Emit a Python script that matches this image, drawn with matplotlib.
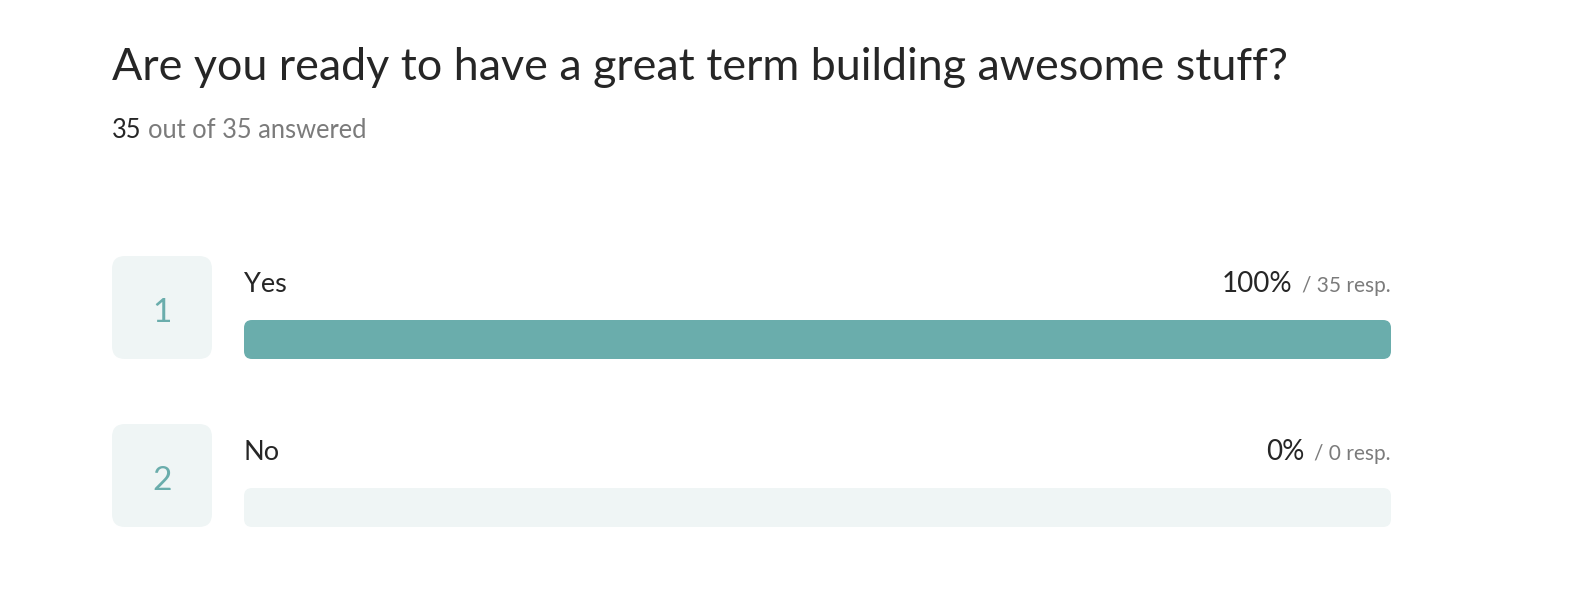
import matplotlib
matplotlib.use("Agg")
import matplotlib.pyplot as plt
from matplotlib.patches import FancyBboxPatch

# ---- data ----
title = "Are you ready to have a great term building awesome stuff?"
answered = 35
total = 35
categories = ["Yes", "No"]
responses = [35, 0]
percents = [100, 0]

# ---- style ----
FONT = ["Lato", "DejaVu Sans"]
TEAL = "#6aadac"
LIGHT = "#eff5f5"
DARK = "#262626"
GRAY = "#7b7b7b"

W, H = 1574, 608
fig = plt.figure(figsize=(W / 100, H / 100), dpi=100)
ax = fig.add_axes([0, 0, 1, 1])
ax.set_xlim(0, W)
ax.set_ylim(H, 0)
ax.axis("off")
renderer = fig.canvas.get_renderer()

def px_extent(t):
    bb = t.get_window_extent(renderer=renderer)
    inv = ax.transData.inverted()
    (x0, _), (x1, _) = inv.transform([(bb.x0, bb.y0), (bb.x1, bb.y1)])
    return x0, x1

ax.text(112, 80, title, fontsize=32.3, color=DARK, family=FONT, va="baseline", ha="left")
t = ax.text(112, 138, str(answered), fontsize=18.4, color=DARK, family=FONT, va="baseline", ha="left")
_, x1 = px_extent(t)
ax.text(x1 + 6, 138, f"out of {total} answered", fontsize=18.4, color=GRAY, family=FONT,
        va="baseline", ha="left")

row_top0 = 256
row_step = 168
box_w, box_h = 100, 103
bar_x0, bar_x1 = 244, 1391
bar_h = 39

for i, (cat, resp, pct) in enumerate(zip(categories, responses, percents)):
    top = row_top0 + i * row_step
    ax.add_patch(FancyBboxPatch((112, top), box_w, box_h,
                                boxstyle="round,pad=0,rounding_size=13",
                                fc=LIGHT, ec="none"))
    ax.text(112 + box_w / 2, top + 66, str(i + 1), fontsize=24, color=TEAL, family=FONT,
            ha="center", va="baseline")
    ax.text(bar_x0, top + 36, cat, fontsize=19.5, color=DARK, family=FONT,
            ha="left", va="baseline")
    bar_top = top + 64
    full = bar_x1 - bar_x0
    ax.add_patch(FancyBboxPatch((bar_x0, bar_top), full, bar_h,
                                boxstyle="round,pad=0,rounding_size=8",
                                fc=LIGHT, ec="none"))
    if pct > 0:
        ax.add_patch(FancyBboxPatch((bar_x0, bar_top), full * pct / 100, bar_h,
                                    boxstyle="round,pad=0,rounding_size=8",
                                    fc=TEAL, ec="none"))
    tr = ax.text(bar_x1, top + 36, f"/ {resp} resp.", fontsize=15, color=GRAY, family=FONT,
                 ha="right", va="baseline")
    x0, _ = px_extent(tr)
    ax.text(x0 - 10, top + 36, f"{pct}%", fontsize=20, color=DARK, family=FONT,
            ha="right", va="baseline")

fig.savefig("out.png", dpi=100, facecolor="white")
